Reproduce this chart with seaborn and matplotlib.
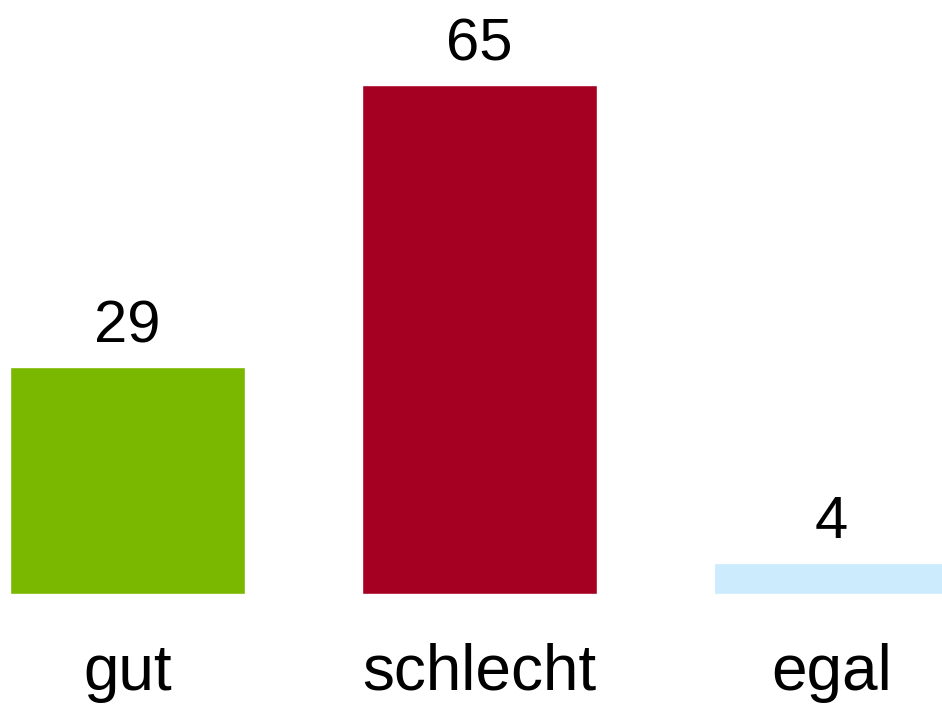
import matplotlib
matplotlib.use('Agg')
import matplotlib.pyplot as plt
import seaborn as sns
import pandas as pd

# data
categories = ['gut', 'schlecht', 'egal']
values = [29, 65, 4]
colors = ['#7AB800', '#A50021', '#CCEBFC']

sns.set_theme(style='white')
plt.rcParams['font.family'] = ['Liberation Sans', 'DejaVu Sans']

df = pd.DataFrame({'antwort': categories, 'wert': values})

fig = plt.figure(figsize=(9.42, 7.04), dpi=100)
ax = fig.add_axes([0, 110 / 704, 1, 594 / 704])

sns.barplot(data=df, x='antwort', y='wert', hue='antwort', palette=colors,
            width=0.667, saturation=1, legend=False, ax=ax)

for c in ax.containers:
    ax.bar_label(c, fontsize=43, padding=9, color='black')

ax.set_xlim(-127.5 / 352, (942 - 127.5) / 352)
ax.set_ylim(0, 594 / 7.83)
ax.set_xlabel('')
ax.set_ylabel('')
ax.set_yticks([])
ax.tick_params(axis='x', length=0, pad=35, labelsize=46, labelcolor='black')
for s in ax.spines.values():
    s.set_visible(False)

plt.savefig('out.png', dpi=100)
